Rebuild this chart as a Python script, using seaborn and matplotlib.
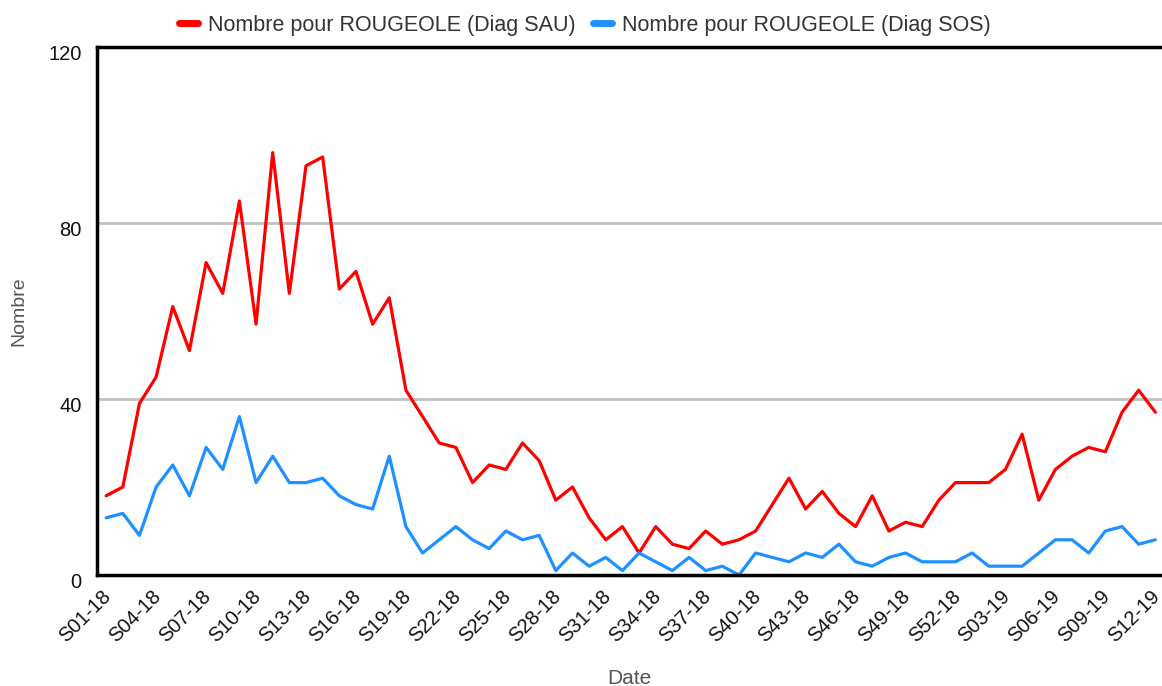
import numpy as np
import pandas as pd
import matplotlib
matplotlib.use('Agg')
import matplotlib.pyplot as plt
import matplotlib.transforms as mtrans
import seaborn as sns

# weekly labels S01-18 .. S52-18, S01-19 .. S12-19
weeks = ['S%02d-18' % w for w in range(1, 53)] + ['S%02d-19' % w for w in range(1, 13)]

sau = [18, 20, 39, 45, 61, 51, 71, 64, 85, 57, 96, 64, 93, 95, 65, 69, 57, 63, 42, 36,
       30, 29, 21, 25, 24, 30, 26, 17, 20, 13, 8, 11, 5, 11, 7, 6, 10, 7, 8, 10,
       16, 22, 15, 19, 14, 11, 18, 10, 12, 11, 17, 21, 21, 21, 24, 32, 17, 24, 27, 29,
       28, 37, 42, 37]
sos = [13, 14, 9, 20, 25, 18, 29, 24, 36, 21, 27, 21, 21, 22, 18, 16, 15, 27, 11, 5,
       8, 11, 8, 6, 10, 8, 9, 1, 5, 2, 4, 1, 5, 3, 1, 4, 1, 2, 0, 5,
       4, 3, 5, 4, 7, 3, 2, 4, 5, 3, 3, 3, 5, 2, 2, 2, 5, 8, 8, 5,
       10, 11, 7, 8]

lab_sau = 'Nombre pour ROUGEOLE (Diag SAU)'
lab_sos = 'Nombre pour ROUGEOLE (Diag SOS)'

df = pd.DataFrame({
    'idx': list(range(len(weeks))) * 2,
    'Nombre': sau + sos,
    'serie': [lab_sau] * len(sau) + [lab_sos] * len(sos),
})

sns.set_style('white')
plt.rcParams['font.family'] = ['Liberation Sans', 'DejaVu Sans']

fig = plt.figure(figsize=(11.62, 6.86), dpi=100)
ax = fig.add_axes([97 / 1162, 111 / 686, 1065 / 1162, 528 / 686])

sns.lineplot(data=df, x='idx', y='Nombre', hue='serie', ax=ax,
             palette={lab_sau: '#ff0000', lab_sos: '#1e90ff'}, linewidth=2.3)

ax.set_xlim(-0.55, 63.4)
ax.set_ylim(0, 120)
ax.set_yticks([0, 40, 80, 120])
ax.set_xticks(range(0, len(weeks), 3))
ax.set_xticklabels(weeks[::3], rotation=45, ha='right', va='center',
                   rotation_mode='anchor', fontsize=14.5)
ax.tick_params(axis='y', length=0, labelsize=14.5, pad=11, labelcolor='#111111')
ax.tick_params(axis='x', length=8, width=2.5, direction='inout', color='black', pad=9,
               labelcolor='#111111')

# small shifts so the tick labels sit like in the original
dx = mtrans.ScaledTranslation(0.02, 0, fig.dpi_scale_trans)
for t in ax.get_xticklabels():
    t.set_transform(t.get_transform() + dx)
dy = mtrans.ScaledTranslation(0, -0.05, fig.dpi_scale_trans)
for t in ax.get_yticklabels():
    t.set_transform(t.get_transform() + dy)

for y in [40, 80]:
    ax.axhline(y, color='#c0c0c0', linewidth=2, zorder=0)

for s in ['left', 'bottom', 'top']:
    ax.spines[s].set_color('black')
    ax.spines[s].set_linewidth(2.5)
ax.spines['right'].set_visible(False)

ax.set_xlabel('Date', color='#555555', fontsize=15)
ax.set_ylabel('Nombre', color='#555555', fontsize=14)
ax.xaxis.set_label_coords(0.5, -0.178)
ax.yaxis.set_label_coords(-0.065, 0.5)

h, l = ax.get_legend_handles_labels()
leg = ax.legend(h, l, loc='center', bbox_to_anchor=(0.458, 1 + 22 / 528), ncol=2,
                frameon=False, handlelength=0.9, handletextpad=0.45, columnspacing=0.8,
                fontsize=15.5, labelcolor='#333333')
for line in leg.get_lines():
    line.set_linewidth(5)

plt.savefig('out.png', dpi=100)
plt.close()
